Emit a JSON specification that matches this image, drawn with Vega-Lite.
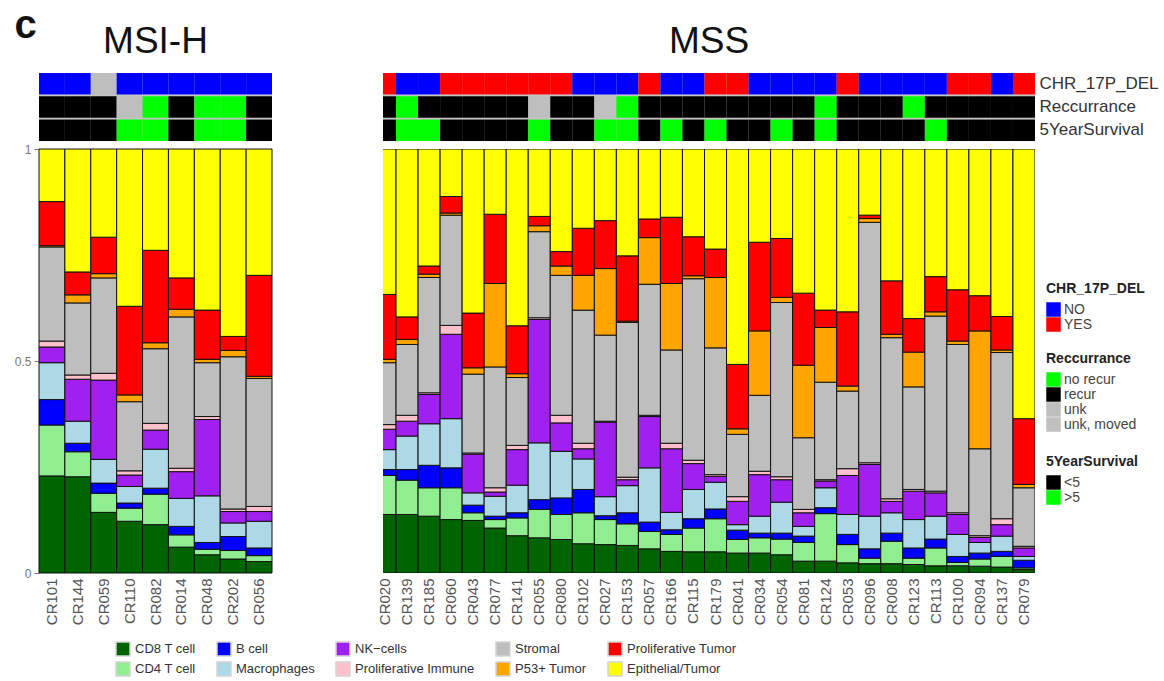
{
  "$schema": "https://vega.github.io/schema/vega-lite/v6.json",
  "background": "white",
  "padding": {"left": 14, "top": 5, "right": 5, "bottom": 5},
  "config": {
    "font": "Liberation Sans",
    "view": {"stroke": null},
    "axis": {"grid": false}
  },
  "datasets": {
    "cells": [
      {"panel":"MSI-H","sample":"CR101","CD8 T cell":0.229,"CD4 T cell":0.120,"B cell":0.060,"Macrophages":0.087,"NK−cells":0.037,"Proliferative Immune":0.014,"Stromal":0.222,"P53+ Tumor":0.003,"Proliferative Tumor":0.104,"Epithelial/Tumor":0.124},
      {"panel":"MSI-H","sample":"CR144","CD8 T cell":0.227,"CD4 T cell":0.059,"B cell":0.020,"Macrophages":0.052,"NK−cells":0.099,"Proliferative Immune":0.010,"Stromal":0.170,"P53+ Tumor":0.019,"Proliferative Tumor":0.054,"Epithelial/Tumor":0.290},
      {"panel":"MSI-H","sample":"CR059","CD8 T cell":0.143,"CD4 T cell":0.045,"B cell":0.024,"Macrophages":0.056,"NK−cells":0.187,"Proliferative Immune":0.016,"Stromal":0.225,"P53+ Tumor":0.010,"Proliferative Tumor":0.086,"Epithelial/Tumor":0.208},
      {"panel":"MSI-H","sample":"CR110","CD8 T cell":0.122,"CD4 T cell":0.031,"B cell":0.012,"Macrophages":0.039,"NK−cells":0.027,"Proliferative Immune":0.010,"Stromal":0.163,"P53+ Tumor":0.016,"Proliferative Tumor":0.209,"Epithelial/Tumor":0.371},
      {"panel":"MSI-H","sample":"CR082","CD8 T cell":0.114,"CD4 T cell":0.072,"B cell":0.014,"Macrophages":0.092,"NK−cells":0.045,"Proliferative Immune":0.016,"Stromal":0.176,"P53+ Tumor":0.014,"Proliferative Tumor":0.218,"Epithelial/Tumor":0.239},
      {"panel":"MSI-H","sample":"CR014","CD8 T cell":0.061,"CD4 T cell":0.029,"B cell":0.020,"Macrophages":0.066,"NK−cells":0.063,"Proliferative Immune":0.008,"Stromal":0.357,"P53+ Tumor":0.018,"Proliferative Tumor":0.074,"Epithelial/Tumor":0.304},
      {"panel":"MSI-H","sample":"CR048","CD8 T cell":0.043,"CD4 T cell":0.013,"B cell":0.016,"Macrophages":0.110,"NK−cells":0.180,"Proliferative Immune":0.007,"Stromal":0.127,"P53+ Tumor":0.008,"Proliferative Tumor":0.116,"Epithelial/Tumor":0.380},
      {"panel":"MSI-H","sample":"CR202","CD8 T cell":0.033,"CD4 T cell":0.020,"B cell":0.033,"Macrophages":0.032,"NK−cells":0.027,"Proliferative Immune":0.006,"Stromal":0.359,"P53+ Tumor":0.015,"Proliferative Tumor":0.033,"Epithelial/Tumor":0.442},
      {"panel":"MSI-H","sample":"CR056","CD8 T cell":0.027,"CD4 T cell":0.014,"B cell":0.018,"Macrophages":0.063,"NK−cells":0.023,"Proliferative Immune":0.012,"Stromal":0.302,"P53+ Tumor":0.005,"Proliferative Tumor":0.238,"Epithelial/Tumor":0.298},
      {"panel":"MSS","sample":"CR020","CD8 T cell":0.138,"CD4 T cell":0.092,"B cell":0.014,"Macrophages":0.047,"NK−cells":0.048,"Proliferative Immune":0.011,"Stromal":0.146,"P53+ Tumor":0.008,"Proliferative Tumor":0.153,"Epithelial/Tumor":0.343},
      {"panel":"MSS","sample":"CR139","CD8 T cell":0.138,"CD4 T cell":0.081,"B cell":0.025,"Macrophages":0.079,"NK−cells":0.035,"Proliferative Immune":0.014,"Stromal":0.167,"P53+ Tumor":0.012,"Proliferative Tumor":0.053,"Epithelial/Tumor":0.396},
      {"panel":"MSS","sample":"CR185","CD8 T cell":0.134,"CD4 T cell":0.067,"B cell":0.053,"Macrophages":0.098,"NK−cells":0.069,"Proliferative Immune":0.004,"Stromal":0.272,"P53+ Tumor":0.008,"Proliferative Tumor":0.019,"Epithelial/Tumor":0.276},
      {"panel":"MSS","sample":"CR060","CD8 T cell":0.126,"CD4 T cell":0.075,"B cell":0.047,"Macrophages":0.116,"NK−cells":0.199,"Proliferative Immune":0.021,"Stromal":0.260,"P53+ Tumor":0.005,"Proliferative Tumor":0.039,"Epithelial/Tumor":0.112},
      {"panel":"MSS","sample":"CR043","CD8 T cell":0.124,"CD4 T cell":0.018,"B cell":0.018,"Macrophages":0.029,"NK−cells":0.091,"Proliferative Immune":0.003,"Stromal":0.186,"P53+ Tumor":0.015,"Proliferative Tumor":0.129,"Epithelial/Tumor":0.387},
      {"panel":"MSS","sample":"CR077","CD8 T cell":0.106,"CD4 T cell":0.020,"B cell":0.008,"Macrophages":0.047,"NK−cells":0.010,"Proliferative Immune":0.010,"Stromal":0.285,"P53+ Tumor":0.197,"Proliferative Tumor":0.163,"Epithelial/Tumor":0.154},
      {"panel":"MSS","sample":"CR141","CD8 T cell":0.088,"CD4 T cell":0.042,"B cell":0.012,"Macrophages":0.065,"NK−cells":0.084,"Proliferative Immune":0.010,"Stromal":0.160,"P53+ Tumor":0.009,"Proliferative Tumor":0.113,"Epithelial/Tumor":0.417},
      {"panel":"MSS","sample":"CR055","CD8 T cell":0.083,"CD4 T cell":0.067,"B cell":0.023,"Macrophages":0.134,"NK−cells":0.291,"Proliferative Immune":0.004,"Stromal":0.203,"P53+ Tumor":0.014,"Proliferative Tumor":0.022,"Epithelial/Tumor":0.159},
      {"panel":"MSS","sample":"CR080","CD8 T cell":0.079,"CD4 T cell":0.059,"B cell":0.039,"Macrophages":0.110,"NK−cells":0.067,"Proliferative Immune":0.018,"Stromal":0.330,"P53+ Tumor":0.022,"Proliferative Tumor":0.034,"Epithelial/Tumor":0.242},
      {"panel":"MSS","sample":"CR102","CD8 T cell":0.069,"CD4 T cell":0.073,"B cell":0.055,"Macrophages":0.072,"NK−cells":0.024,"Proliferative Immune":0.013,"Stromal":0.314,"P53+ Tumor":0.082,"Proliferative Tumor":0.111,"Epithelial/Tumor":0.187},
      {"panel":"MSS","sample":"CR027","CD8 T cell":0.067,"CD4 T cell":0.059,"B cell":0.009,"Macrophages":0.045,"NK−cells":0.176,"Proliferative Immune":0.002,"Stromal":0.203,"P53+ Tumor":0.157,"Proliferative Tumor":0.113,"Epithelial/Tumor":0.169},
      {"panel":"MSS","sample":"CR153","CD8 T cell":0.065,"CD4 T cell":0.051,"B cell":0.026,"Macrophages":0.064,"NK−cells":0.014,"Proliferative Immune":0.006,"Stromal":0.365,"P53+ Tumor":0.003,"Proliferative Tumor":0.154,"Epithelial/Tumor":0.252},
      {"panel":"MSS","sample":"CR057","CD8 T cell":0.057,"CD4 T cell":0.041,"B cell":0.022,"Macrophages":0.128,"NK−cells":0.121,"Proliferative Immune":0.003,"Stromal":0.309,"P53+ Tumor":0.110,"Proliferative Tumor":0.044,"Epithelial/Tumor":0.165},
      {"panel":"MSS","sample":"CR166","CD8 T cell":0.051,"CD4 T cell":0.040,"B cell":0.011,"Macrophages":0.041,"NK−cells":0.150,"Proliferative Immune":0.013,"Stromal":0.220,"P53+ Tumor":0.157,"Proliferative Tumor":0.156,"Epithelial/Tumor":0.161},
      {"panel":"MSS","sample":"CR115","CD8 T cell":0.050,"CD4 T cell":0.056,"B cell":0.022,"Macrophages":0.069,"NK−cells":0.061,"Proliferative Immune":0.008,"Stromal":0.428,"P53+ Tumor":0.007,"Proliferative Tumor":0.092,"Epithelial/Tumor":0.207},
      {"panel":"MSS","sample":"CR179","CD8 T cell":0.050,"CD4 T cell":0.078,"B cell":0.023,"Macrophages":0.063,"NK−cells":0.014,"Proliferative Immune":0.004,"Stromal":0.299,"P53+ Tumor":0.166,"Proliferative Tumor":0.067,"Epithelial/Tumor":0.236},
      {"panel":"MSS","sample":"CR041","CD8 T cell":0.047,"CD4 T cell":0.032,"B cell":0.022,"Macrophages":0.013,"NK−cells":0.055,"Proliferative Immune":0.011,"Stromal":0.147,"P53+ Tumor":0.013,"Proliferative Tumor":0.152,"Epithelial/Tumor":0.508},
      {"panel":"MSS","sample":"CR034","CD8 T cell":0.047,"CD4 T cell":0.036,"B cell":0.011,"Macrophages":0.040,"NK−cells":0.098,"Proliferative Immune":0.008,"Stromal":0.179,"P53+ Tumor":0.152,"Proliferative Tumor":0.209,"Epithelial/Tumor":0.220},
      {"panel":"MSS","sample":"CR054","CD8 T cell":0.043,"CD4 T cell":0.037,"B cell":0.014,"Macrophages":0.073,"NK−cells":0.053,"Proliferative Immune":0.007,"Stromal":0.411,"P53+ Tumor":0.012,"Proliferative Tumor":0.139,"Epithelial/Tumor":0.211},
      {"panel":"MSS","sample":"CR081","CD8 T cell":0.028,"CD4 T cell":0.044,"B cell":0.015,"Macrophages":0.023,"NK−cells":0.032,"Proliferative Immune":0.008,"Stromal":0.169,"P53+ Tumor":0.171,"Proliferative Tumor":0.170,"Epithelial/Tumor":0.340},
      {"panel":"MSS","sample":"CR124","CD8 T cell":0.028,"CD4 T cell":0.112,"B cell":0.014,"Macrophages":0.047,"NK−cells":0.016,"Proliferative Immune":0.003,"Stromal":0.230,"P53+ Tumor":0.129,"Proliferative Tumor":0.041,"Epithelial/Tumor":0.380},
      {"panel":"MSS","sample":"CR053","CD8 T cell":0.024,"CD4 T cell":0.043,"B cell":0.024,"Macrophages":0.047,"NK−cells":0.092,"Proliferative Immune":0.016,"Stromal":0.183,"P53+ Tumor":0.012,"Proliferative Tumor":0.175,"Epithelial/Tumor":0.384},
      {"panel":"MSS","sample":"CR096","CD8 T cell":0.022,"CD4 T cell":0.013,"B cell":0.022,"Macrophages":0.077,"NK−cells":0.122,"Proliferative Immune":0.004,"Stromal":0.567,"P53+ Tumor":0.009,"Proliferative Tumor":0.008,"Epithelial/Tumor":0.156},
      {"panel":"MSS","sample":"CR008","CD8 T cell":0.022,"CD4 T cell":0.053,"B cell":0.019,"Macrophages":0.048,"NK−cells":0.027,"Proliferative Immune":0.006,"Stromal":0.380,"P53+ Tumor":0.008,"Proliferative Tumor":0.126,"Epithelial/Tumor":0.311},
      {"panel":"MSS","sample":"CR123","CD8 T cell":0.020,"CD4 T cell":0.015,"B cell":0.024,"Macrophages":0.067,"NK−cells":0.067,"Proliferative Immune":0.004,"Stromal":0.242,"P53+ Tumor":0.082,"Proliferative Tumor":0.079,"Epithelial/Tumor":0.400},
      {"panel":"MSS","sample":"CR113","CD8 T cell":0.017,"CD4 T cell":0.042,"B cell":0.021,"Macrophages":0.054,"NK−cells":0.055,"Proliferative Immune":0.004,"Stromal":0.413,"P53+ Tumor":0.010,"Proliferative Tumor":0.083,"Epithelial/Tumor":0.301},
      {"panel":"MSS","sample":"CR100","CD8 T cell":0.017,"CD4 T cell":0.008,"B cell":0.014,"Macrophages":0.052,"NK−cells":0.047,"Proliferative Immune":0.004,"Stromal":0.397,"P53+ Tumor":0.008,"Proliferative Tumor":0.121,"Epithelial/Tumor":0.332},
      {"panel":"MSS","sample":"CR094","CD8 T cell":0.016,"CD4 T cell":0.017,"B cell":0.014,"Macrophages":0.025,"NK−cells":0.012,"Proliferative Immune":0.004,"Stromal":0.205,"P53+ Tumor":0.278,"Proliferative Tumor":0.083,"Epithelial/Tumor":0.346},
      {"panel":"MSS","sample":"CR137","CD8 T cell":0.014,"CD4 T cell":0.025,"B cell":0.012,"Macrophages":0.036,"NK−cells":0.027,"Proliferative Immune":0.014,"Stromal":0.392,"P53+ Tumor":0.006,"Proliferative Tumor":0.079,"Epithelial/Tumor":0.395},
      {"panel":"MSS","sample":"CR079","CD8 T cell":0.008,"CD4 T cell":0.004,"B cell":0.018,"Macrophages":0.009,"NK−cells":0.020,"Proliferative Immune":0.004,"Stromal":0.138,"P53+ Tumor":0.008,"Proliferative Tumor":0.155,"Epithelial/Tumor":0.636}
    ],
    "annot": [
      {"panel":"MSI-H","sample":"CR101","CHR_17P_DEL":"NO","Reccurrance":"recur","5YearSurvival":"<5"},
      {"panel":"MSI-H","sample":"CR144","CHR_17P_DEL":"NO","Reccurrance":"recur","5YearSurvival":"<5"},
      {"panel":"MSI-H","sample":"CR059","CHR_17P_DEL":"NA","Reccurrance":"recur","5YearSurvival":"<5"},
      {"panel":"MSI-H","sample":"CR110","CHR_17P_DEL":"NO","Reccurrance":"unk","5YearSurvival":">5"},
      {"panel":"MSI-H","sample":"CR082","CHR_17P_DEL":"NO","Reccurrance":"no recur","5YearSurvival":">5"},
      {"panel":"MSI-H","sample":"CR014","CHR_17P_DEL":"NO","Reccurrance":"recur","5YearSurvival":"<5"},
      {"panel":"MSI-H","sample":"CR048","CHR_17P_DEL":"NO","Reccurrance":"no recur","5YearSurvival":">5"},
      {"panel":"MSI-H","sample":"CR202","CHR_17P_DEL":"NO","Reccurrance":"no recur","5YearSurvival":">5"},
      {"panel":"MSI-H","sample":"CR056","CHR_17P_DEL":"NO","Reccurrance":"recur","5YearSurvival":"<5"},
      {"panel":"MSS","sample":"CR020","CHR_17P_DEL":"YES","Reccurrance":"recur","5YearSurvival":"<5"},
      {"panel":"MSS","sample":"CR139","CHR_17P_DEL":"NO","Reccurrance":"no recur","5YearSurvival":">5"},
      {"panel":"MSS","sample":"CR185","CHR_17P_DEL":"NO","Reccurrance":"recur","5YearSurvival":">5"},
      {"panel":"MSS","sample":"CR060","CHR_17P_DEL":"YES","Reccurrance":"recur","5YearSurvival":"<5"},
      {"panel":"MSS","sample":"CR043","CHR_17P_DEL":"YES","Reccurrance":"recur","5YearSurvival":"<5"},
      {"panel":"MSS","sample":"CR077","CHR_17P_DEL":"YES","Reccurrance":"recur","5YearSurvival":"<5"},
      {"panel":"MSS","sample":"CR141","CHR_17P_DEL":"YES","Reccurrance":"recur","5YearSurvival":"<5"},
      {"panel":"MSS","sample":"CR055","CHR_17P_DEL":"YES","Reccurrance":"unk","5YearSurvival":">5"},
      {"panel":"MSS","sample":"CR080","CHR_17P_DEL":"YES","Reccurrance":"recur","5YearSurvival":"<5"},
      {"panel":"MSS","sample":"CR102","CHR_17P_DEL":"NO","Reccurrance":"recur","5YearSurvival":"<5"},
      {"panel":"MSS","sample":"CR027","CHR_17P_DEL":"NO","Reccurrance":"unk, moved","5YearSurvival":">5"},
      {"panel":"MSS","sample":"CR153","CHR_17P_DEL":"NO","Reccurrance":"no recur","5YearSurvival":">5"},
      {"panel":"MSS","sample":"CR057","CHR_17P_DEL":"YES","Reccurrance":"recur","5YearSurvival":"<5"},
      {"panel":"MSS","sample":"CR166","CHR_17P_DEL":"NO","Reccurrance":"recur","5YearSurvival":">5"},
      {"panel":"MSS","sample":"CR115","CHR_17P_DEL":"NO","Reccurrance":"recur","5YearSurvival":"<5"},
      {"panel":"MSS","sample":"CR179","CHR_17P_DEL":"YES","Reccurrance":"recur","5YearSurvival":">5"},
      {"panel":"MSS","sample":"CR041","CHR_17P_DEL":"YES","Reccurrance":"recur","5YearSurvival":"<5"},
      {"panel":"MSS","sample":"CR034","CHR_17P_DEL":"NO","Reccurrance":"recur","5YearSurvival":"<5"},
      {"panel":"MSS","sample":"CR054","CHR_17P_DEL":"NO","Reccurrance":"recur","5YearSurvival":">5"},
      {"panel":"MSS","sample":"CR081","CHR_17P_DEL":"NO","Reccurrance":"recur","5YearSurvival":"<5"},
      {"panel":"MSS","sample":"CR124","CHR_17P_DEL":"NO","Reccurrance":"no recur","5YearSurvival":">5"},
      {"panel":"MSS","sample":"CR053","CHR_17P_DEL":"YES","Reccurrance":"recur","5YearSurvival":"<5"},
      {"panel":"MSS","sample":"CR096","CHR_17P_DEL":"NO","Reccurrance":"recur","5YearSurvival":"<5"},
      {"panel":"MSS","sample":"CR008","CHR_17P_DEL":"NO","Reccurrance":"recur","5YearSurvival":"<5"},
      {"panel":"MSS","sample":"CR123","CHR_17P_DEL":"NO","Reccurrance":"no recur","5YearSurvival":"<5"},
      {"panel":"MSS","sample":"CR113","CHR_17P_DEL":"NO","Reccurrance":"recur","5YearSurvival":">5"},
      {"panel":"MSS","sample":"CR100","CHR_17P_DEL":"YES","Reccurrance":"recur","5YearSurvival":"<5"},
      {"panel":"MSS","sample":"CR094","CHR_17P_DEL":"YES","Reccurrance":"recur","5YearSurvival":"<5"},
      {"panel":"MSS","sample":"CR137","CHR_17P_DEL":"NO","Reccurrance":"recur","5YearSurvival":"<5"},
      {"panel":"MSS","sample":"CR079","CHR_17P_DEL":"YES","Reccurrance":"recur","5YearSurvival":"<5"}
    ]
  },
  "spacing": 10,
  "resolve": {"scale": {"color": "independent"}},
  "vconcat": [
    {
      "spacing": 104,
      "resolve": {"scale": {"color": "independent"}},
      "hconcat": [
        {
          "bounds": "flush",
          "spacing": 8,
          "resolve": {"scale": {"color": "independent"}},
          "vconcat": [
            {
              "title": {"text": "MSI-H", "anchor": "middle", "frame": "group", "fontSize": 37, "fontWeight": "normal", "baseline": "alphabetic", "offset": -17, "color": "#111"},
              "width": 233, "height": 68,
              "view": {"fill": "#c4c4c4", "stroke": null},
              "data": {"name": "annot"},
              "transform": [
                {"filter": "datum.panel === 'MSI-H'"},
                {"fold": ["CHR_17P_DEL", "Reccurrance", "5YearSurvival"], "as": ["track", "value"]}
              ],
              "encoding": {
                "x": {"field": "sample", "type": "nominal", "sort": ["CR101","CR144","CR059","CR110","CR082","CR014","CR048","CR202","CR056"], "scale": {"paddingInner": 0, "paddingOuter": 0}, "axis": null},
                "y": {"field": "track", "type": "nominal", "sort": ["CHR_17P_DEL", "Reccurrance", "5YearSurvival"], "scale": {"paddingInner": 0.08, "paddingOuter": 0}, "axis": null}
              },
              "layer": [
                {"transform": [{"filter": "datum.track === 'CHR_17P_DEL'"}], "mark": {"type": "rect"},
                 "encoding": {"color": {"field": "value", "type": "nominal", "scale": {"domain": ["NO", "YES", "NA"], "range": ["#0000ff", "#ff0000", "#bebebe"]}, "legend": null}}},
                {"transform": [{"filter": "datum.track === 'Reccurrance'"}], "mark": {"type": "rect"},
                 "encoding": {"color": {"field": "value", "type": "nominal", "scale": {"domain": ["no recur", "recur", "unk", "unk, moved"], "range": ["#00ff00", "#000000", "#bebebe", "#c0c0c0"]}, "legend": null}}},
                {"transform": [{"filter": "datum.track === '5YearSurvival'"}], "mark": {"type": "rect"},
                 "encoding": {"color": {"field": "value", "type": "nominal", "scale": {"domain": ["<5", ">5"], "range": ["#000000", "#00ff00"]}, "legend": null}}}
              ],
              "resolve": {"scale": {"color": "independent"}}
            },
            {
              "width": 233, "height": 424,
              "data": {"name": "cells"},
              "transform": [
                {"filter": "datum.panel === 'MSI-H'"},
                {"fold": ["CD8 T cell","CD4 T cell","B cell","Macrophages","NK−cells","Proliferative Immune","Stromal","P53+ Tumor","Proliferative Tumor","Epithelial/Tumor"], "as": ["type", "value"]},
                {"calculate": "indexof(['CD8 T cell','CD4 T cell','B cell','Macrophages','NK−cells','Proliferative Immune','Stromal','P53+ Tumor','Proliferative Tumor','Epithelial/Tumor'], datum.type)", "as": "ord"}
              ],
              "mark": {"type": "bar", "stroke": "#111", "strokeWidth": 1},
              "encoding": {
                "x": {"field": "sample", "type": "nominal", "sort": ["CR101","CR144","CR059","CR110","CR082","CR014","CR048","CR202","CR056"], "scale": {"paddingInner": 0, "paddingOuter": 0},
                      "axis": {"title": null, "labelAngle": -90, "labelFontSize": 15, "labelColor": "#555", "ticks": false, "domain": false, "labelPadding": 5}},
                "y": {"field": "value", "type": "quantitative", "stack": "normalize", "scale": {"domain": [0, 1]},
                      "axis": {"title": "c", "titleAngle": 0, "titleX": -25, "titleY": -112, "titleFontSize": 40, "titleFontWeight": "bold", "titleColor": "#111", "titleAlign": "left", "titleBaseline": "alphabetic",
                               "values": [0, 0.5, 1], "labelExpr": "format(datum.value, '~g')", "labelFontSize": 12, "labelColor": "#777", "tickColor": "#777", "tickSize": 5, "labelPadding": 3, "domain": false}},
                "color": {"field": "type", "type": "nominal",
                          "scale": {"domain": ["CD8 T cell","B cell","NK−cells","Stromal","Proliferative Tumor","CD4 T cell","Macrophages","Proliferative Immune","P53+ Tumor","Epithelial/Tumor"],
                                    "range": ["#006400","#0000ff","#a020f0","#bebebe","#ff0000","#90ee90","#add8e6","#ffc0cb","#ffa500","#ffff00"]},
                          "legend": null},
                "order": {"field": "ord", "type": "quantitative"}
              }
            }
          ]
        },
        {
          "bounds": "flush",
          "spacing": 8,
          "resolve": {"scale": {"color": "independent"}},
          "vconcat": [
            {
              "title": {"text": "MSS", "anchor": "middle", "frame": "group", "fontSize": 37, "fontWeight": "normal", "baseline": "alphabetic", "offset": -17, "color": "#111"},
              "width": 652, "height": 68,
              "view": {"fill": "#c4c4c4", "stroke": null},
              "data": {"name": "annot"},
              "transform": [
                {"filter": "datum.panel === 'MSS'"},
                {"fold": ["CHR_17P_DEL", "Reccurrance", "5YearSurvival"], "as": ["track", "value"]}
              ],
              "encoding": {
                "x": {"field": "sample", "type": "nominal", "sort": ["CR020","CR139","CR185","CR060","CR043","CR077","CR141","CR055","CR080","CR102","CR027","CR153","CR057","CR166","CR115","CR179","CR041","CR034","CR054","CR081","CR124","CR053","CR096","CR008","CR123","CR113","CR100","CR094","CR137","CR079"], "scale": {"range": [-9, 652], "paddingInner": 0, "paddingOuter": 0}, "axis": null},
                "y": {"field": "track", "type": "nominal", "sort": ["CHR_17P_DEL", "Reccurrance", "5YearSurvival"], "scale": {"paddingInner": 0.08, "paddingOuter": 0},
                      "axis": {"orient": "right", "title": null, "ticks": false, "domain": false, "labelFontSize": 17, "labelColor": "#333", "labelPadding": 4}}
              },
              "layer": [
                {"transform": [{"filter": "datum.track === 'CHR_17P_DEL'"}], "mark": {"type": "rect", "clip": true},
                 "encoding": {"color": {"field": "value", "type": "nominal", "scale": {"domain": ["NO", "YES", "NA"], "range": ["#0000ff", "#ff0000", "#bebebe"]},
                   "legend": {"values": ["NO", "YES"], "title": "CHR_17P_DEL", "orient": "none", "legendX": 663, "legendY": 209, "symbolType": "square", "symbolSize": 210, "symbolStrokeWidth": 0, "labelFontSize": 14, "labelColor": "#444", "titleFontSize": 14, "titleFontWeight": "bold", "titleColor": "#222", "rowPadding": 0, "padding": 0, "titlePadding": 6, "labelOffset": 3}}}},
                {"transform": [{"filter": "datum.track === 'Reccurrance'"}], "mark": {"type": "rect", "clip": true},
                 "encoding": {"color": {"field": "value", "type": "nominal", "scale": {"domain": ["no recur", "recur", "unk", "unk, moved"], "range": ["#00ff00", "#000000", "#bebebe", "#c0c0c0"]},
                   "legend": {"title": "Reccurrance", "orient": "none", "legendX": 663, "legendY": 279, "symbolType": "square", "symbolSize": 210, "symbolStrokeWidth": 0, "labelFontSize": 14, "labelColor": "#444", "titleFontSize": 14, "titleFontWeight": "bold", "titleColor": "#222", "rowPadding": 0, "padding": 0, "titlePadding": 6, "labelOffset": 3}}}},
                {"transform": [{"filter": "datum.track === '5YearSurvival'"}], "mark": {"type": "rect", "clip": true},
                 "encoding": {"color": {"field": "value", "type": "nominal", "scale": {"domain": ["<5", ">5"], "range": ["#000000", "#00ff00"]},
                   "legend": {"title": "5YearSurvival", "orient": "none", "legendX": 663, "legendY": 382, "symbolType": "square", "symbolSize": 210, "symbolStrokeWidth": 0, "labelFontSize": 14, "labelColor": "#444", "titleFontSize": 14, "titleFontWeight": "bold", "titleColor": "#222", "rowPadding": 0, "padding": 0, "titlePadding": 6, "labelOffset": 3}}}}
              ],
              "resolve": {"scale": {"color": "independent"}}
            },
            {
              "width": 652, "height": 424,
              "data": {"name": "cells"},
              "transform": [
                {"filter": "datum.panel === 'MSS'"},
                {"fold": ["CD8 T cell","CD4 T cell","B cell","Macrophages","NK−cells","Proliferative Immune","Stromal","P53+ Tumor","Proliferative Tumor","Epithelial/Tumor"], "as": ["type", "value"]},
                {"calculate": "indexof(['CD8 T cell','CD4 T cell','B cell','Macrophages','NK−cells','Proliferative Immune','Stromal','P53+ Tumor','Proliferative Tumor','Epithelial/Tumor'], datum.type)", "as": "ord"}
              ],
              "mark": {"type": "bar", "stroke": "#111", "strokeWidth": 1, "clip": true},
              "encoding": {
                "x": {"field": "sample", "type": "nominal", "sort": ["CR020","CR139","CR185","CR060","CR043","CR077","CR141","CR055","CR080","CR102","CR027","CR153","CR057","CR166","CR115","CR179","CR041","CR034","CR054","CR081","CR124","CR053","CR096","CR008","CR123","CR113","CR100","CR094","CR137","CR079"], "scale": {"range": [-9, 652], "paddingInner": 0, "paddingOuter": 0},
                      "axis": {"title": null, "labelAngle": -90, "labelFontSize": 15, "labelColor": "#555", "ticks": false, "domain": false, "labelPadding": 5}},
                "y": {"field": "value", "type": "quantitative", "stack": "normalize", "scale": {"domain": [0, 1]}, "axis": null},
                "color": {"field": "type", "type": "nominal",
                          "scale": {"domain": ["CD8 T cell","B cell","NK−cells","Stromal","Proliferative Tumor","CD4 T cell","Macrophages","Proliferative Immune","P53+ Tumor","Epithelial/Tumor"],
                                    "range": ["#006400","#0000ff","#a020f0","#bebebe","#ff0000","#90ee90","#add8e6","#ffc0cb","#ffa500","#ffff00"]},
                          "legend": null},
                "order": {"field": "ord", "type": "quantitative"}
              }
            }
          ]
        }
      ]
    },
    {
      "width": 700, "height": 1,
      "data": {"name": "cells"},
      "transform": [
        {"filter": "false"},
        {"fold": ["CD8 T cell","CD4 T cell","B cell","Macrophages","NK−cells","Proliferative Immune","Stromal","P53+ Tumor","Proliferative Tumor","Epithelial/Tumor"], "as": ["type", "value"]}
      ],
      "mark": {"type": "bar"},
      "encoding": {
        "color": {"field": "type", "type": "nominal",
                  "scale": {"domain": ["CD8 T cell","B cell","NK−cells","Stromal","Proliferative Tumor","CD4 T cell","Macrophages","Proliferative Immune","P53+ Tumor","Epithelial/Tumor"],
                            "range": ["#006400","#0000ff","#a020f0","#bebebe","#ff0000","#90ee90","#add8e6","#ffc0cb","#ffa500","#ffff00"]},
                  "legend": {"title": null, "orient": "none", "legendX": 76, "legendY": 6, "direction": "horizontal", "columns": 5, "columnPadding": 18, "rowPadding": 0, "symbolType": "square", "symbolSize": 196, "symbolStrokeColor": "#d4d4d4", "symbolStrokeWidth": 1.5, "labelFontSize": 13, "labelColor": "#333", "padding": 0, "labelOffset": 4}}
      }
    }
  ]
}
